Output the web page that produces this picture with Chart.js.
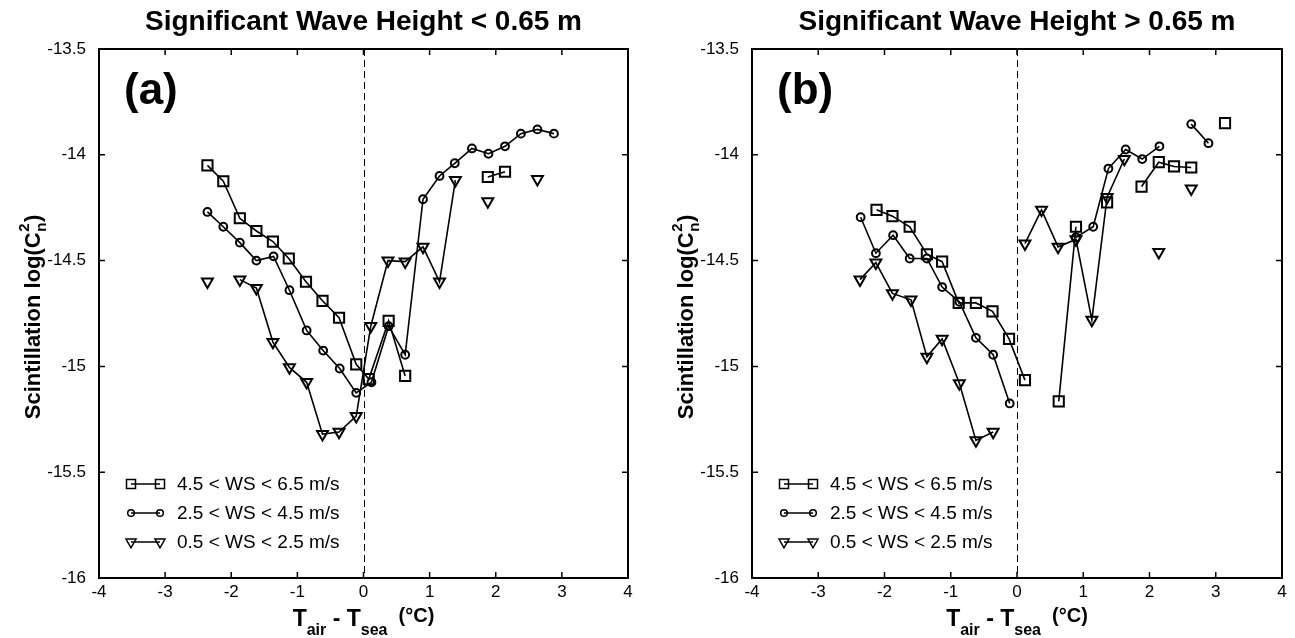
<!DOCTYPE html>
<html><head><meta charset="utf-8">
<script src="https://cdn.jsdelivr.net/npm/chart.js@4.4.0/dist/chart.umd.min.js"></script>
<style>
html,body{margin:0;padding:0;background:#fff;}
#wrap{position:relative;width:1295px;height:638px;overflow:hidden;background:#fff;}
canvas{position:absolute;top:0;}
</style></head><body>
<div id="wrap">
<canvas id="ca" width="647" height="638" style="left:0px"></canvas>
<canvas id="cb" width="647" height="638" style="left:648px"></canvas>
</div>
<script>
// ---------- tick labels / text ----------
const xTicks = [-4, -3, -2, -1, 0, 1, 2, 3, 4];
const yTicks = [-16, -15.5, -15, -14.5, -14, -13.5];
const seriesLabels = ['4.5 < WS < 6.5 m/s', '2.5 < WS < 4.5 m/s', '0.5 < WS < 2.5 m/s'];
const panelTitles = ['Significant Wave Height < 0.65 m', 'Significant Wave Height > 0.65 m'];
const panelTags = ['(a)', '(b)'];

// ---------- panel (a): Hs < 0.65 m (null = break in line) ----------
const aSquareX = [-2.36, -2.12, -1.87, -1.62, -1.37, -1.13, -0.87, -0.62, -0.37, -0.11, 0.08, 0.38, 0.63, 1.2, 1.88, 2.14];
const aSquareY = [-14.05, -14.125, -14.30, -14.36, -14.41, -14.49, -14.60, -14.69, -14.77, -14.99, -15.06, -14.785, -15.045, null, -14.105, -14.08];
const aCircleX = [-2.36, -2.12, -1.87, -1.62, -1.36, -1.12, -0.86, -0.61, -0.36, -0.11, 0.12, 0.38, 0.63, 0.90, 1.15, 1.38, 1.64, 1.89, 2.14, 2.38, 2.63, 2.88];
const aCircleY = [-14.27, -14.34, -14.415, -14.50, -14.48, -14.64, -14.83, -14.925, -15.01, -15.125, -15.075, -14.81, -14.945, -14.21, -14.10, -14.04, -13.97, -13.995, -13.96, -13.90, -13.88, -13.90];
const aTriX = [-2.36, -2.1, -1.87, -1.62, -1.37, -1.12, -0.86, -0.62, -0.37, -0.11, 0.11, 0.37, 0.63, 0.90, 1.15, 1.39, 1.6, 1.88, 2.2, 2.63];
const aTriY = [-14.60, null, -14.59, -14.63, -14.885, -15.005, -15.075, -15.32, -15.31, -15.235, -14.81, -14.50, -14.505, -14.435, -14.60, -14.12, null, -14.22, null, -14.115];

// ---------- panel (b): Hs > 0.65 m ----------
const bSquareX = [-2.12, -1.88, -1.62, -1.36, -1.13, -0.88, -0.62, -0.37, -0.12, 0.12, 0.4, 0.63, 0.89, 1.1, 1.36, 1.6, 1.88, 2.14, 2.37, 2.63, 2.9, 3.14];
const bSquareY = [-14.26, -14.29, -14.34, -14.47, -14.505, -14.70, -14.70, -14.74, -14.87, -15.065, null, -15.165, -14.34, null, -14.225, null, -14.15, -14.035, -14.055, -14.06, null, -13.85];
const bCircleX = [-2.36, -2.13, -1.87, -1.62, -1.36, -1.13, -0.87, -0.62, -0.36, -0.11, 0.4, 0.89, 1.15, 1.38, 1.64, 1.89, 2.15, 2.4, 2.63, 2.89];
const bCircleY = [-14.295, -14.465, -14.38, -14.49, -14.49, -14.625, -14.695, -14.865, -14.945, -15.175, null, -14.39, -14.34, -14.065, -13.975, -14.02, -13.96, null, -13.855, -13.945];
const bTriX = [-2.37, -2.13, -1.88, -1.60, -1.36, -1.13, -0.87, -0.62, -0.36, -0.1, 0.12, 0.37, 0.62, 0.89, 1.13, 1.36, 1.62, 1.9, 2.14, 2.4, 2.63];
const bTriY = [-14.59, -14.51, -14.655, -14.685, -14.955, -14.87, -15.08, -15.35, -15.31, null, -14.42, -14.26, -14.435, -14.40, -14.78, -14.20, -14.02, null, -14.46, null, -14.16];

const FONT = '"Liberation Sans", Arial, Helvetica, sans-serif';
Chart.defaults.color = '#000';
Chart.defaults.font.family = FONT;

function pts(xs, ys) { return xs.map((x, i) => ({ x: x, y: ys[i] })); }

function marker(ctx, style, x, y) {
  ctx.beginPath();
  if (style === 'rect') { const h = 4.5; ctx.rect(x - h, y - h, 2 * h, 2 * h); }
  else if (style === 'circle') { ctx.arc(x, y, 3.3, 0, Math.PI * 2); }
  else { const r = 5.8; ctx.moveTo(x, y + r); ctx.lineTo(x - 0.866 * r, y - 0.5 * r); ctx.lineTo(x + 0.866 * r, y - 0.5 * r); ctx.closePath(); }
  ctx.stroke();
}

const decor = {
  id: 'decor',
  beforeDatasetsDraw(chart) {
    const { ctx, chartArea: a, scales: { x } } = chart;
    ctx.save();
    ctx.strokeStyle = '#000'; ctx.lineWidth = 1; ctx.setLineDash([7, 4]);
    const x0 = Math.round(x.getPixelForValue(0)) + 0.5;
    ctx.beginPath(); ctx.moveTo(x0, a.top); ctx.lineTo(x0, a.bottom); ctx.stroke();
    ctx.restore();
  },
  afterDraw(chart, args, opts) {
    const { ctx, chartArea: a, scales: { x, y } } = chart;
    ctx.save();
    ctx.strokeStyle = '#000'; ctx.fillStyle = '#000';
    // frame
    ctx.lineWidth = 2;
    ctx.strokeRect(a.left, a.top, a.right - a.left, a.bottom - a.top);
    // inward ticks
    ctx.lineWidth = 1.5;
    ctx.beginPath();
    xTicks.forEach(v => {
      const p = x.getPixelForValue(v);
      ctx.moveTo(p, a.bottom); ctx.lineTo(p, a.bottom - 6);
      ctx.moveTo(p, a.top); ctx.lineTo(p, a.top + 6);
    });
    yTicks.forEach(v => {
      const p = y.getPixelForValue(v);
      ctx.moveTo(a.left, p); ctx.lineTo(a.left + 6, p);
      ctx.moveTo(a.right, p); ctx.lineTo(a.right - 6, p);
    });
    ctx.stroke();
    const cx = (a.left + a.right) / 2;
    // title
    ctx.textAlign = 'center'; ctx.textBaseline = 'alphabetic';
    ctx.font = 'bold 28px ' + FONT;
    ctx.fillText(opts.title, cx, 30);
    // panel tag
    ctx.textAlign = 'left';
    ctx.font = 'bold 44px ' + FONT;
    ctx.fillText(opts.tag, a.left + 25, 104);
    // x-axis title with subscripts
    const parts = [
      { t: 'T', f: 'bold 23px ', dy: 626 },
      { t: 'air', f: 'bold 16px ', dy: 635 },
      { t: ' - ', f: 'bold 23px ', dy: 626 },
      { t: 'T', f: 'bold 23px ', dy: 626 },
      { t: 'sea', f: 'bold 16px ', dy: 635 },
      { t: '  (\u00B0C)', f: 'bold 20px ', dy: 622 }
    ];
    let tw = 0;
    parts.forEach(p => { ctx.font = p.f + FONT; p.w = ctx.measureText(p.t).width; tw += p.w; });
    let px = cx - tw / 2;
    parts.forEach(p => { ctx.font = p.f + FONT; ctx.fillText(p.t, px, p.dy); px += p.w; });
    // y-axis title (rotated) with super/subscript
    ctx.save();
    const cy = (a.top + a.bottom) / 2 + 4;
    ctx.translate(a.left - 59, cy);
    ctx.rotate(-Math.PI / 2);
    ctx.font = 'bold 22px ' + FONT;
    const m1 = 'Scintillation log(C';
    const w1 = ctx.measureText(m1).width;
    const w3 = ctx.measureText(')').width;
    ctx.font = 'bold 15px ' + FONT;
    const w2 = Math.max(ctx.measureText('2').width, ctx.measureText('n').width);
    let ux = -(w1 + w2 + w3) / 2;
    ctx.font = 'bold 22px ' + FONT;
    ctx.fillText(m1, ux, 0); ux += w1;
    ctx.font = 'bold 15px ' + FONT;
    ctx.fillText('2', ux + 0.5, -11);
    ctx.fillText('n', ux + 0.5, 6);
    ux += w2 + 1;
    ctx.font = 'bold 22px ' + FONT;
    ctx.fillText(')', ux, 0);
    ctx.restore();
    // legend
    const rows = [484, 513, 542];
    const styles = ['rect', 'circle', 'triangle'];
    ctx.font = '19px ' + FONT;
    ctx.textBaseline = 'middle';
    ctx.lineWidth = 1.5;
    chart.data.datasets.forEach((ds, i) => {
      const ry = rows[i];
      const l = a.left + 32, r = a.left + 61;
      ctx.beginPath(); ctx.moveTo(l, ry); ctx.lineTo(r, ry); ctx.stroke();
      marker(ctx, styles[i], l, ry);
      marker(ctx, styles[i], r, ry);
      ctx.fillText(ds.label, a.left + 78, ry + 1);
    });
    ctx.restore();
  }
};

function ds(label, data, style, radius, rot) {
  return {
    label: label, data: data, borderColor: '#000', borderWidth: 1.6,
    pointStyle: style, pointRadius: radius, pointRotation: rot || 0,
    pointBorderColor: '#000', pointBorderWidth: 2,
    pointBackgroundColor: 'rgba(0,0,0,0)', backgroundColor: 'rgba(0,0,0,0)',
    fill: false, tension: 0, spanGaps: false
  };
}

function makeChart(id, sets, yWidth, padRight, title, tag) {
  return new Chart(document.getElementById(id), {
    type: 'line',
    data: {
      datasets: [
        ds(seriesLabels[0], sets[0], 'rect', 7.2),
        ds(seriesLabels[1], sets[1], 'circle', 3.9),
        ds(seriesLabels[2], sets[2], 'triangle', 6.3, 180)
      ]
    },
    options: {
      responsive: false, animation: false, devicePixelRatio: 1,
      layout: { padding: { left: 0, right: padRight, top: 49, bottom: 0 } },
      plugins: { legend: { display: false }, title: { display: false }, tooltip: { enabled: false },
        decor: { title: title, tag: tag } },
      events: [],
      scales: {
        x: {
          type: 'linear', min: -4, max: 4,
          afterBuildTicks: s => { s.ticks = xTicks.map(v => ({ value: v })); },
          ticks: { autoSkip: false, maxRotation: 0, padding: -4, font: { size: 17 }, color: '#000', callback: v => String(v) },
          grid: { display: false }, border: { display: false },
          afterFit: s => { s.height = 60; }
        },
        y: {
          type: 'linear', min: -16, max: -13.5,
          afterBuildTicks: s => { s.ticks = yTicks.map(v => ({ value: v })); },
          ticks: { autoSkip: false, padding: 5, font: { size: 17 }, color: '#000', callback: v => String(v) },
          grid: { display: false }, border: { display: false },
          afterFit: s => { s.width = yWidth; }
        }
      }
    },
    plugins: [decor]
  });
}

makeChart('ca', [pts(aSquareX, aSquareY), pts(aCircleX, aCircleY), pts(aTriX, aTriY)], 99, 19, panelTitles[0], panelTags[0]);
makeChart('cb', [pts(bSquareX, bSquareY), pts(bCircleX, bCircleY), pts(bTriX, bTriY)], 104, 13, panelTitles[1], panelTags[1]);
</script>
</body></html>
